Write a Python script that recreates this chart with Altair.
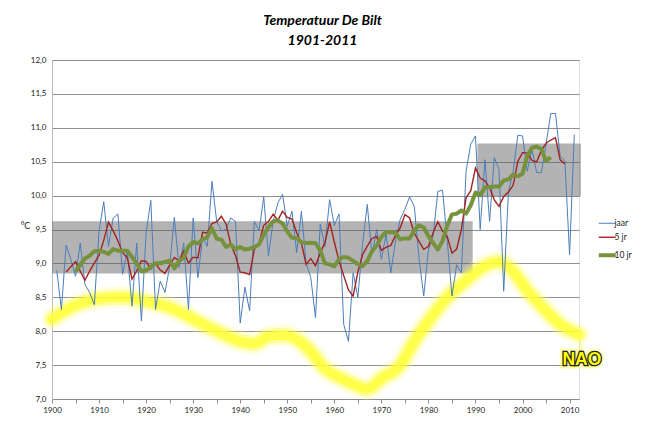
import altair as alt
import pandas as pd

# ---------------- data ----------------
years = list(range(1901, 2012))
jaar = [
    8.90, 8.32, 9.27, 9.06, 8.81, 9.30, 8.69, 8.57, 8.39, 9.48,   # 1901-1910
    9.91, 9.25, 9.67, 9.73, 8.84, 9.18, 8.37, 9.30, 8.15, 9.45,   # 1911-1920
    9.93, 8.32, 8.74, 8.57, 8.95, 9.68, 8.94, 9.30, 8.32, 9.67,   # 1921-1930
    8.79, 9.38, 9.25, 10.21, 9.62, 9.48, 9.50, 9.67, 9.62, 8.12,  # 1931-1940
    8.65, 8.30, 9.62, 9.48, 9.98, 9.11, 9.62, 9.89, 10.02, 9.55,  # 1941-1950
    9.77, 9.16, 9.77, 9.01, 8.79, 8.20, 9.58, 9.25, 9.94, 9.56,   # 1951-1960
    9.73, 8.10, 7.85, 8.86, 8.50, 9.28, 9.87, 9.13, 9.50, 9.06,   # 1961-1970
    9.43, 8.86, 9.33, 9.65, 9.80, 9.98, 9.84, 9.08, 8.52, 9.20,   # 1971-1980
    9.40, 10.06, 10.08, 9.33, 8.52, 8.98, 8.86, 10.36, 10.76, 10.88,  # 1981-1990
    9.50, 10.53, 9.62, 10.56, 10.39, 8.59, 10.05, 10.35, 10.89, 10.88, # 1991-2000
    10.36, 10.68, 10.34, 10.34, 10.76, 11.21, 11.21, 10.58, 10.51, 9.13, # 2001-2010
    10.90,                                                          # 2011
]

series_names = ["jaar", "5 jr", "10 jr"]
series_colors = ["#4a7ebb", "#a3221f", "#76923c"]
series_widths = [1, 1.4, 4]

# grey period bands
band_start = [1900, 1990.4]
band_end = [1989.4, 2012.4]
band_low = [8.85, 9.99]
band_high = [9.62, 10.77]

# hand-drawn NAO curve
nao_years = [1900, 1905, 1910, 1915, 1920, 1925, 1930, 1935, 1940, 1943, 1946,
             1949, 1952, 1955, 1958, 1961, 1964, 1967, 1970, 1974, 1977, 1980,
             1984, 1988, 1991, 1995, 1998, 2001, 2005, 2008, 2012]
nao_values = [8.18, 8.38, 8.48, 8.50, 8.44, 8.35, 8.18, 8.00, 7.85, 7.82, 7.92,
              7.94, 7.88, 7.70, 7.45, 7.32, 7.22, 7.15, 7.30, 7.50, 7.85, 8.15,
              8.50, 8.75, 8.92, 9.02, 8.88, 8.60, 8.30, 8.10, 7.95]
nao_label = ["NAO"]
nao_label_year = [2012.6]
nao_label_value = [7.58]

y_ticks = [7.0, 7.5, 8.0, 8.5, 9.0, 9.5, 10.0, 10.5, 11.0, 11.5, 12.0]
x_ticks = list(range(1900, 2011, 5))

FONT = "Lato"

df = pd.DataFrame({"year": years, "temp": jaar})
bands_df = pd.DataFrame({"start": band_start, "end": band_end,
                         "low": band_low, "high": band_high})
nao_df = pd.DataFrame({"year": nao_years, "nao": nao_values})
lab_df = pd.DataFrame({"year": nao_label_year, "v": nao_label_value, "t": nao_label})

x_scale = alt.Scale(domain=[1900, 2012], nice=False, zero=False)
y_scale = alt.Scale(domain=[7, 12], nice=False, zero=False)

x_axis = alt.Axis(values=x_ticks,
                  labelExpr="datum.value % 10 == 0 ? '' + datum.value : ''",
                  grid=False, tickSize=4, tickColor="#8c8c8c",
                  domainColor="#8c8c8c", labelFont=FONT, labelFontSize=8,
                  labelColor="#222", labelPadding=3, title=None,
                  labelFlush=False)
y_axis = alt.Axis(values=y_ticks,
                  labelExpr="replace(format(datum.value, '.1f'), '.', ',')",
                  grid=True, gridColor="#8f8f8f", gridWidth=1, ticks=False,
                  domainColor="#bdbdbd", labelFont=FONT, labelFontSize=8,
                  labelColor="#222", labelPadding=6, title="°C",
                  titleAngle=0, titleX=-27, titleY=170, titleFont=FONT,
                  titleFontSize=9, titleFontWeight="normal", titleColor="#222")


def X(field):
    return alt.X(field, scale=x_scale, axis=x_axis)


def Y(field):
    return alt.Y(field, scale=y_scale, axis=y_axis)


width_expr = ("datum.value == '10 jr' ? %s : (datum.value == '5 jr' ? %s : %s)"
              % (series_widths[2], series_widths[1], series_widths[0]))

color_enc = alt.Color("series:N", sort=series_names,
                      scale=alt.Scale(domain=series_names, range=series_colors),
                      legend=alt.Legend(orient="none", legendX=551, legendY=159,
                                        title=None, symbolType="stroke",
                                        symbolSize=289,
                                        symbolStrokeWidth=alt.ExprRef(expr=width_expr),
                                        labelFont=FONT, labelFontSize=8.5,
                                        labelColor="#222", labelOffset=3,
                                        rowPadding=5))

bands = alt.Chart(bands_df).mark_rect(color="#5e5e5e", opacity=0.47).encode(
    x=X("start:Q"), x2="end:Q", y=Y("low:Q"), y2="high:Q")

nao_base = alt.Chart(nao_df).encode(x=X("year:Q"), y=Y("nao:Q"))
nao1 = nao_base.mark_line(interpolate="monotone", color="#ffff70", strokeWidth=22,
                          opacity=0.22, strokeCap="round", strokeJoin="round")
nao2 = nao_base.mark_line(interpolate="monotone", color="#ffff30", strokeWidth=15,
                          opacity=0.4, strokeCap="round", strokeJoin="round")
nao3 = nao_base.mark_line(interpolate="monotone", color="#ffff33", strokeWidth=9,
                          opacity=0.75, strokeCap="round", strokeJoin="round")

base = alt.Chart(df)
blue = base.transform_calculate(series="'jaar'").mark_line(
    strokeWidth=series_widths[0]).encode(
    x=X("year:Q"), y=Y("temp:Q"), color=color_enc)

red = base.transform_window(
    avg="mean(temp)", n="count()", frame=[-2, 2], sort=[alt.SortField("year")]
).transform_filter("datum.n == 5").transform_calculate(
    series="'5 jr'").mark_line(strokeWidth=series_widths[1]).encode(
    x=X("year:Q"), y=Y("avg:Q"), color=color_enc)

green = base.transform_window(
    avg="mean(temp)", n="count()", frame=[-4, 5], sort=[alt.SortField("year")]
).transform_filter("datum.n == 10").transform_calculate(
    series="'10 jr'").mark_line(strokeWidth=series_widths[2],
                                strokeJoin="round").encode(
    x=X("year:Q"), y=Y("avg:Q"), color=color_enc)

lab_base = alt.Chart(lab_df).encode(x=X("year:Q"), y=Y("v:Q"), text="t:N")
lab_glow = lab_base.mark_text(font="Liberation Sans", fontWeight="bold",
                              fontSize=17.5, stroke="#ffff66", strokeWidth=7,
                              strokeOpacity=0.5, fill="#ffff66")
lab_outline = lab_base.mark_text(font="Liberation Sans", fontWeight="bold",
                                 fontSize=17.5, stroke="#222", strokeWidth=2.6,
                                 fill="#222")
lab_fill = lab_base.mark_text(font="Liberation Sans", fontWeight="bold",
                              fontSize=17.5, fill="#ffff00")

chart = alt.layer(
    bands, nao1, nao2, nao3, blue, red, green, lab_glow, lab_outline, lab_fill
).properties(
    width=527, height=339,
    title=alt.TitleParams(text=["Temperatuur De Bilt", "1901-2011"], font=FONT,
                          fontSize=14, fontStyle="italic", fontWeight="bold",
                          anchor="middle", offset=8, dx=7, lineHeight=20,
                          color="black"),
    autosize=alt.AutoSizeParams(type="none"),
    padding={"left": 44, "top": 52, "right": 58, "bottom": 18},
).configure_view(stroke=None).configure(background="white")

chart.save("out.html", embed_options={"renderer": "svg", "actions": False})
